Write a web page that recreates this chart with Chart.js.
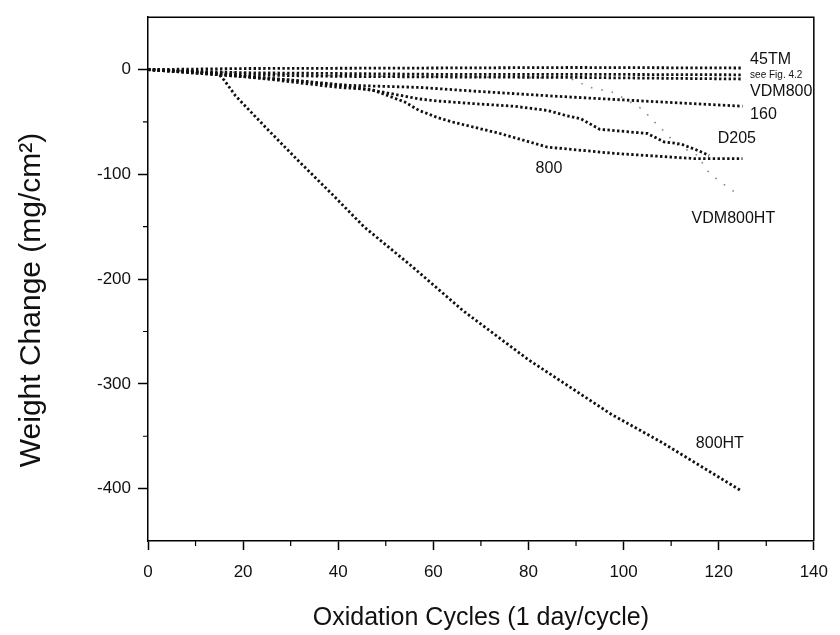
<!DOCTYPE html>
<html>
<head>
<meta charset="utf-8">
<script src="https://cdn.jsdelivr.net/npm/chart.js@4/dist/chart.umd.min.js"></script>
<style>
  html, body { margin: 0; padding: 0; background: #fff; }
  canvas { display: block; }
</style>
</head>
<body>
<canvas id="myChart" width="840" height="635"></canvas>
<script>
// valores (ciclos, cambio de peso mg/cm2)
var cycles45TM = [0, 20, 60, 90, 125];
var wc45TM     = [0, 1, 1.5, 2, 1.5];

var cyclesSeeFig = [0, 20, 60, 90, 125];
var wcSeeFig     = [0, -3, -4.5, -4.5, -5];

var cyclesVDM800 = [0, 20, 40, 60, 90, 125];
var wcVDM800     = [0, -5, -6.5, -7, -7.5, -9];

var cycles160 = [0, 15, 30, 42, 57, 70, 86, 100, 125];
var wc160     = [0, -5, -10, -15, -17, -21, -25.5, -29, -35];

var cyclesD205 = [0, 15, 30, 42, 50, 57, 61, 70, 77, 84, 88, 91, 95, 105, 108.5, 112, 115.5, 118];
var wcD205     = [0, -5, -10, -16, -22, -28, -30, -33, -35, -39, -44, -47, -57, -61, -69, -71, -77, -82];

var cycles800 = [0, 15, 26, 40, 47, 54, 57, 61, 64, 74, 84, 98, 115, 125];
var wc800     = [0, -4, -9.5, -17, -19, -31, -39, -46, -50, -61, -74, -80, -85, -85];

var cyclesVDM800HT = [0, 40, 88, 90.5, 92, 98, 104, 106.5, 109, 111, 116, 117, 120, 124.6];
var wcVDM800HT     = [0, -6, -8, -11, -16, -22, -38, -50, -61, -71, -83, -94, -106, -121];

var cycles800HT = [0, 10, 15, 16, 18.4, 24.7, 31.6, 38.5, 45.4, 55.8, 66.2, 80, 97.4, 107.7, 124.7];
var wc800HT     = [0, -2, -5, -10, -25, -55, -87, -118, -150, -189, -230, -277, -329, -355, -402];

// etiquetas dentro de la grafica (texto y posicion en unidades de datos)
var noteText = ['45TM', 'see Fig. 4.2', 'VDM800', '160', 'D205', '800', 'VDM800HT', '800HT'];
var noteX    = [126.6, 126.6, 126.6, 126.6, 119.8, 81.5, 114.3, 115.2];
var noteY    = [9.5, -5.7, -20.8, -42.5, -66, -94.5, -142, -357];
var noteSize = [16, 10, 16, 16, 16, 16, 16, 16];

var xMinor = [10, 30, 50, 70, 90, 110, 130];
var yMinor = [-350, -250, -150, -50];

function pts(xs, ys) {
    return xs.map(function(x, i) { return { x: x, y: ys[i] }; });
}

function dotted(label, xs, ys) {
    return {
        label: label,
        data: pts(xs, ys),
        borderColor: '#111',
        borderWidth: 2.8,
        borderDash: [2.4, 2.4],
        borderCapStyle: 'butt',
        pointRadius: 0,
        tension: 0,
        fill: false
    };
}

var faint = dotted('VDM800HT', cyclesVDM800HT, wcVDM800HT);
faint.borderColor = '#8a8a8a';
faint.borderWidth = 1.6;
faint.borderDash = [1.6, 9];

// marco superior/derecho, ticks menores y etiquetas
var extras = {
    id: 'extras',
    afterDraw: function(chart) {
        var ctx = chart.ctx;
        var a = chart.chartArea;
        var xs = chart.scales.x, ys = chart.scales.y;
        ctx.save();
        ctx.strokeStyle = '#000';
        ctx.lineWidth = 1.5;
        ctx.beginPath();
        ctx.moveTo(a.left, a.top);
        ctx.lineTo(a.right, a.top);
        ctx.lineTo(a.right, a.bottom);
        ctx.stroke();
        ctx.lineWidth = 1.2;
        ctx.beginPath();
        xMinor.forEach(function(v) {
            var px = xs.getPixelForValue(v);
            ctx.moveTo(px, a.bottom);
            ctx.lineTo(px, a.bottom + 5);
        });
        yMinor.forEach(function(v) {
            var py = ys.getPixelForValue(v);
            ctx.moveTo(a.left - 5, py);
            ctx.lineTo(a.left, py);
        });
        ctx.stroke();
        ctx.fillStyle = '#111';
        ctx.textAlign = 'left';
        ctx.textBaseline = 'middle';
        noteText.forEach(function(t, i) {
            ctx.font = noteSize[i] + 'px "Liberation Sans", Arial, sans-serif';
            ctx.fillText(t, xs.getPixelForValue(noteX[i]), ys.getPixelForValue(noteY[i]));
        });
        ctx.restore();
    }
};

var ctx = document.getElementById('myChart').getContext('2d');
var myChart = new Chart(ctx, {
    type: 'line',
    data: {
        datasets: [
            dotted('45TM', cycles45TM, wc45TM),
            dotted('see Fig. 4.2', cyclesSeeFig, wcSeeFig),
            dotted('VDM800', cyclesVDM800, wcVDM800),
            dotted('160', cycles160, wc160),
            dotted('D205', cyclesD205, wcD205),
            dotted('800', cycles800, wc800),
            faint,
            dotted('800HT', cycles800HT, wc800HT)
        ]
    },
    options: {
        responsive: false,
        animation: false,
        devicePixelRatio: 1,
        layout: { padding: { left: 14, right: 19, top: 12, bottom: 0 } },
        plugins: {
            legend: { display: false },
            tooltip: { enabled: false }
        },
        scales: {
            x: {
                type: 'linear',
                min: 0,
                max: 140,
                afterFit: function(scale) { scale.height = 94; },
                ticks: {
                    stepSize: 10,
                    padding: 12,
                    color: '#111',
                    font: { family: '"Liberation Sans", Arial, sans-serif', size: 17 },
                    maxRotation: 0,
                    callback: function(v) { return v % 20 === 0 ? String(v) : ''; }
                },
                grid: {
                    drawOnChartArea: false,
                    tickLength: 9,
                    tickWidth: 1.5,
                    tickColor: function(c) {
                        return (c.tick && c.tick.value % 20 === 0) ? '#000' : 'rgba(0,0,0,0)';
                    }
                },
                border: { color: '#000', width: 1.5 },
                title: {
                    display: true,
                    text: 'Oxidation Cycles (1 day/cycle)',
                    color: '#111',
                    font: { family: '"Liberation Sans", Arial, sans-serif', size: 25 },
                    padding: { top: 0, bottom: 2 }
                }
            },
            y: {
                type: 'linear',
                min: -450,
                max: 50,
                afterFit: function(scale) { scale.width = 134; },
                ticks: {
                    stepSize: 50,
                    padding: 7,
                    color: '#111',
                    font: { family: '"Liberation Sans", Arial, sans-serif', size: 17 },
                    callback: function(v) { return v % 100 === 0 ? String(v) : ''; }
                },
                grid: {
                    drawOnChartArea: false,
                    tickLength: 10,
                    tickWidth: 1.5,
                    tickColor: function(c) {
                        return (c.tick && c.tick.value % 100 === 0) ? '#000' : 'rgba(0,0,0,0)';
                    }
                },
                border: { color: '#000', width: 1.5 },
                title: {
                    display: true,
                    text: 'Weight Change (mg/cm\u00b2)     ',
                    color: '#111',
                    font: { family: '"Liberation Sans", Arial, sans-serif', size: 30 },
                    padding: { top: 0, bottom: 0 }
                }
            }
        }
    },
    plugins: [extras]
});
</script>
</body>
</html>
